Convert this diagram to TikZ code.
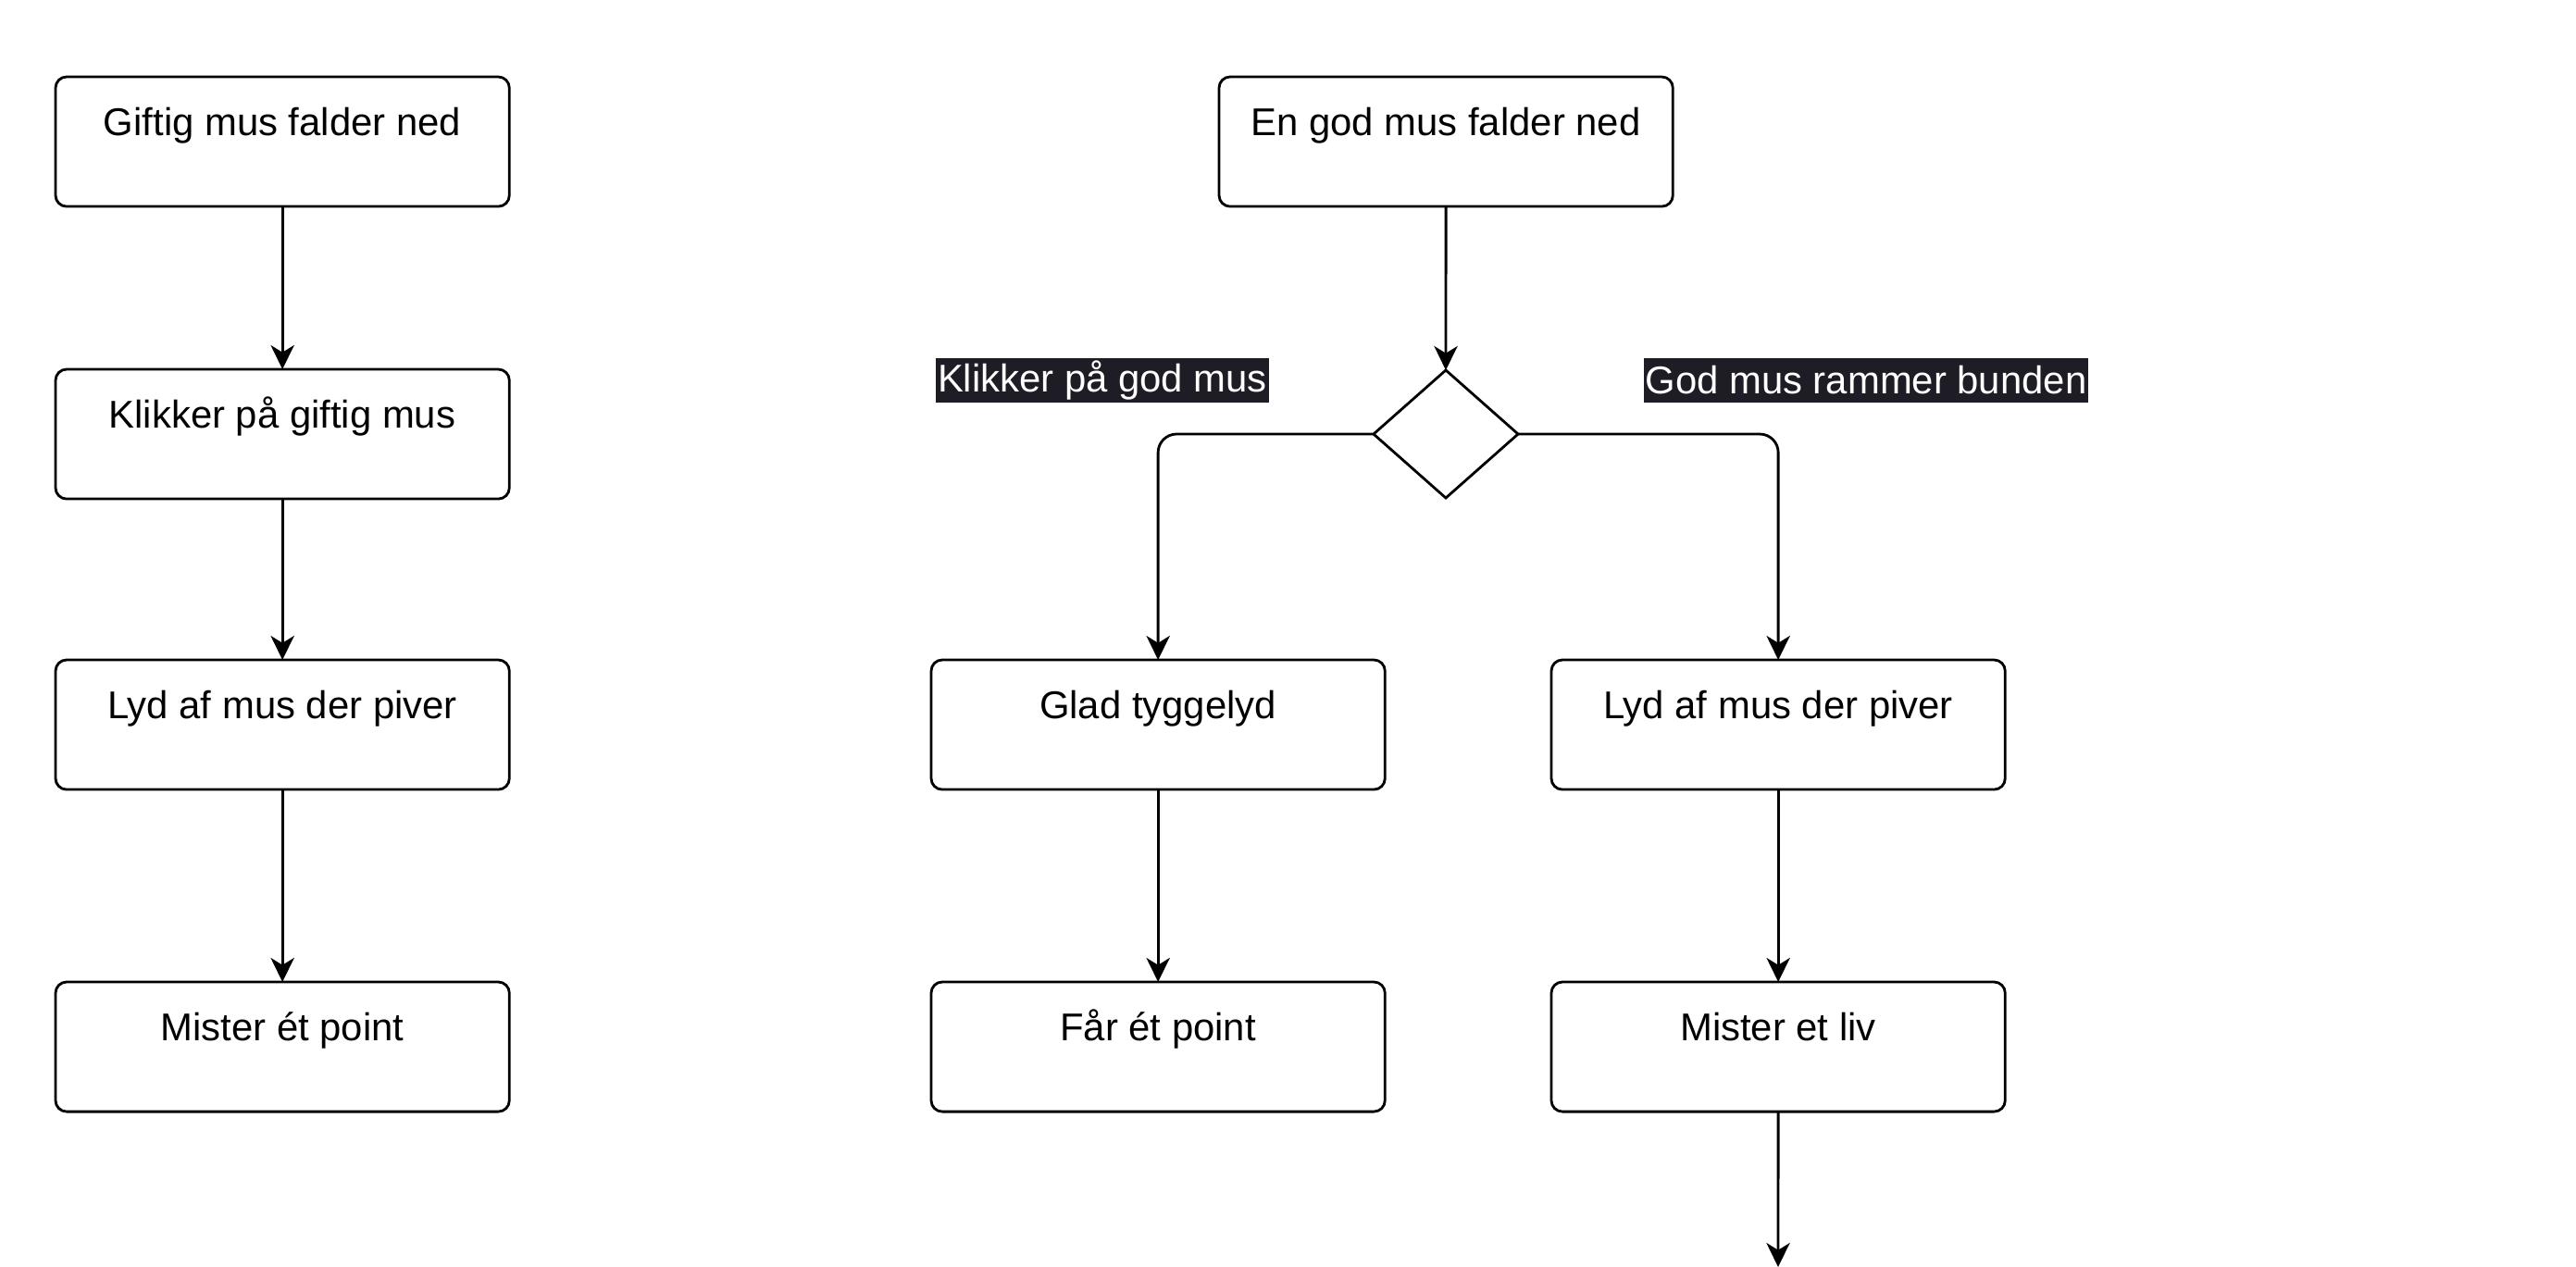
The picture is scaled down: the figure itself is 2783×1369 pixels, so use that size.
\documentclass[tikz,border=0pt]{standalone}
\usepackage{fontspec}
\setmainfont{Liberation Sans}
\usetikzlibrary{arrows.meta,shapes.geometric}
\definecolor{labelbg}{RGB}{30,29,37}
\tikzset{
  box/.style={draw=black, line width=0.8pt, rounded corners=3.4pt, minimum width=4.9cm, minimum height=1.4cm, inner sep=0pt, outer sep=0pt, anchor=north west},
  boxtext/.style={font=\fontsize{11.9pt}{14pt}\selectfont, inner sep=0pt, text height=9pt, text depth=2.5pt},
  lbl/.style={fill=labelbg, text=white, font=\fontsize{11.9pt}{14pt}\selectfont, inner xsep=0.5pt, inner ysep=0pt, minimum height=0.48cm},
  conn/.style={draw=black, line width=0.8pt, -{Stealth[length=7.4pt, width=7.2pt, inset=2.2pt]}},
  dec/.style={draw=black, line width=0.8pt, diamond, minimum width=1.56cm, minimum height=1.38cm, inner sep=0pt, outer sep=0pt, aspect=1.13}
}
\begin{document}
\begin{tikzpicture}[x=0.01cm, y=-0.01cm]
\useasboundingbox (0,0) rectangle (2783,1369);
% left column
\node[box] (g1) at (60,83) {};
\node[boxtext] (t1) at (305,135) {Giftig mus falder ned};
\node[box] (g2) at (60,399) {};
\node[boxtext] (t2) at (305,451) {Klikker på giftig mus};
\node[box] (g3) at (60,713) {};
\node[boxtext] (t3) at (305,765) {Lyd af mus der piver};
\node[box] (g4) at (60,1061) {};
\node[boxtext] (t4) at (305,1113) {Mister ét point};
\draw[conn] (g1.south) -- (g2.north);
\draw[conn] (g2.south) -- (g3.north);
\draw[conn] (g3.south) -- (g4.north);
% middle
\node[box] (m1) at (1317,83) {};
\node[boxtext] (mt1) at (1562,135) {En god mus falder ned};
\node[dec] (d) at (1562,469) {};
\node[box] (a1) at (1006,713) {};
\node[boxtext] (at1) at (1251,765) {Glad tyggelyd};
\node[box] (a2) at (1006,1061) {};
\node[boxtext] (at2) at (1251,1113) {Får ét point};
\node[box] (b1) at (1676,713) {};
\node[boxtext] (bt1) at (1921,765) {Lyd af mus der piver};
\node[box] (b2) at (1676,1061) {};
\node[boxtext] (bt2) at (1921,1113) {Mister et liv};
\coordinate (endpt) at (1921,1369);
\node[lbl] (l1) at (1191,411) {Klikker på god mus};
\node[lbl] (l2) at (2016,411) {God mus rammer bunden};
\draw[conn] (m1.south) -- (d.north);
\draw[conn, rounded corners=0.2cm] (d.west) -| (a1.north);
\draw[conn, rounded corners=0.2cm] (d.east) -| (b1.north);
\draw[conn] (a1.south) -- (a2.north);
\draw[conn] (b1.south) -- (b2.north);
\draw[conn] (b2.south) -- (endpt);
\end{tikzpicture}
\end{document}
